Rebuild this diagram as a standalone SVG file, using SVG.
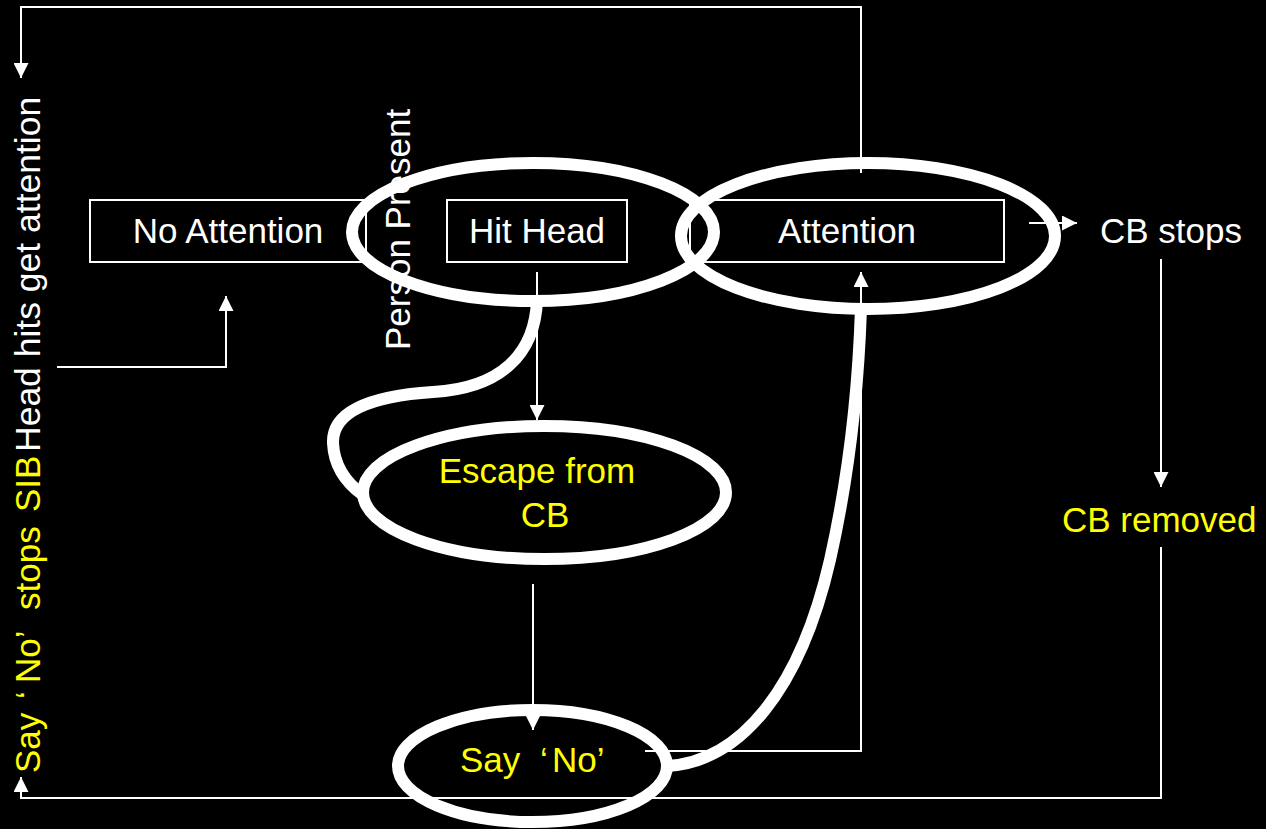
<svg xmlns="http://www.w3.org/2000/svg" width="1266" height="829" viewBox="0 0 1266 829">
<style>
.box{fill:none;stroke:#fff;stroke-width:2}
.ln{fill:none;stroke:#fff;stroke-width:2}
.ring{fill:none;stroke:#fff;stroke-width:12}
.t{font-family:"Liberation Sans",Arial,sans-serif;font-size:35px;fill:#fff}
.y{fill:#ff0}
.c{text-anchor:middle}
</style>
<defs>
<marker id="arr" viewBox="0 0 15 15" refX="15" refY="7.5" markerWidth="15" markerHeight="15" orient="auto" markerUnits="userSpaceOnUse">
<path d="M0,0 L15,7.5 L0,15 z" fill="#fff"/>
</marker>
</defs>
<rect width="1266" height="829" fill="#000"/>
<g id="connectors">
<path class="ln" d="M861,173 V7 H21 V78" marker-end="url(#arr)"/>
<path class="ln" d="M57,367 H226 V296" marker-end="url(#arr)"/>
<path class="ln" d="M537,272 V420" marker-end="url(#arr)"/>
<path class="ln" d="M533,584 V730" marker-end="url(#arr)"/>
<path class="ln" d="M645,751 H861 V272" marker-end="url(#arr)"/>
<path class="ln" d="M1029,223 H1077" marker-end="url(#arr)"/>
<path class="ln" d="M1161,259 V487" marker-end="url(#arr)"/>
<path class="ln" d="M1161,547 V798 H21 V777" marker-end="url(#arr)"/>
</g>
<g id="node-no-attention">
<rect class="box" x="90" y="200" width="276" height="62"/>
<text class="t c" x="228" y="243">No Attention</text>
</g>
<g id="node-hit-head">
<rect class="box" x="447" y="200" width="180" height="62"/>
<text class="t c" x="537" y="243">Hit Head</text>
</g>
<g id="node-attention">
<rect class="box" x="690" y="200" width="314" height="62"/>
<text class="t c" x="847" y="243">Attention</text>
</g>
<g id="node-cb-stops">
<text class="t" x="1100" y="243">CB stops</text>
</g>
<g id="node-cb-removed">
<text class="t y" x="1062" y="532">CB removed</text>
</g>
<g id="node-escape">
<ellipse class="ring" cx="544.5" cy="492.5" rx="181.5" ry="66.5"/>
<text class="t y c" x="537" y="483">Escape from</text>
<text class="t y c" x="545" y="527">CB</text>
</g>
<g id="node-say-no">
<ellipse class="ring" cx="532.5" cy="766" rx="134.5" ry="56"/>
<text class="t y"><tspan x="460" y="772">Say</tspan><tspan x="540" y="772">‘</tspan><tspan x="552" y="772">No’</tspan></text>
</g>
<g id="highlights">
<ellipse class="ring" cx="533" cy="232" rx="181" ry="69"/>
<ellipse class="ring" cx="868" cy="236" rx="187" ry="73"/>
<path class="ring" d="M537,300 C535,355 500,388 433,392 C370,396 332,412 333,443 C334,465 345,482 363,495"/>
<path class="ring" d="M667,766 C740,762 800,690 830,560 C848,480 858,400 861,308"/>
</g>
<g id="labels">
<text class="t" transform="translate(410,350) rotate(-90)" x="0" y="0">Person Present</text>
<text class="t y" transform="translate(39.5,773) rotate(-90)"><tspan x="0" y="0">Say</tspan><tspan x="74" y="0">‘</tspan><tspan x="90" y="0">No’</tspan><tspan x="163" y="0">stops</tspan><tspan x="261" y="0">SIB</tspan></text>
<text class="t" transform="translate(39.5,773) rotate(-90)" x="321" y="0" style="font-size:35.5px">Head hits get attention</text>
</g>
</svg>
